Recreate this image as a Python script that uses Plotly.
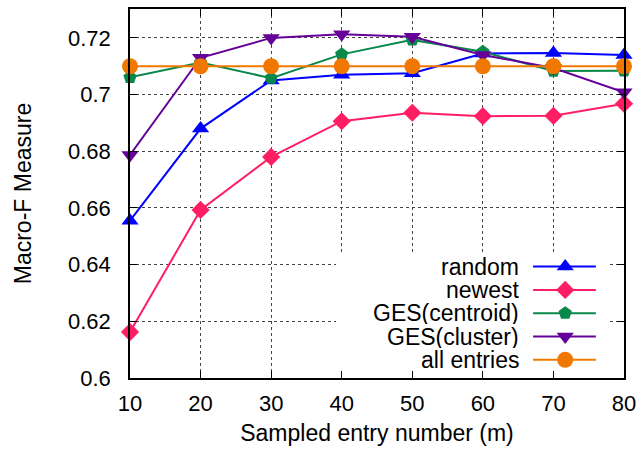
import plotly.graph_objects as go

x_vals = [10, 20, 30, 40, 50, 60, 70, 80]
random_vals = [0.6555, 0.688, 0.705, 0.707, 0.7075, 0.7145, 0.7147, 0.7140]
newest_vals = [0.6162, 0.6593, 0.678, 0.6906, 0.6936, 0.6924, 0.6925, 0.6968]
centroid_vals = [0.7061, 0.7113, 0.7058, 0.7142, 0.7193, 0.7151, 0.7083, 0.7084]
cluster_vals = [0.6787, 0.7130, 0.7200, 0.7213, 0.7204, 0.7140, 0.7094, 0.7008]
all_vals = [0.71, 0.71, 0.71, 0.71, 0.71, 0.71, 0.71, 0.71]

series_names = ["random", "newest", "GES(centroid)", "GES(cluster)", "all entries"]
series_vals = [random_vals, newest_vals, centroid_vals, cluster_vals, all_vals]
colors = ["#0000FF", "#FF1E64", "#08884A", "#650099", "#F07800"]
symbols = ["triangle-up", "diamond", "pentagon", "triangle-down", "circle"]
msizes = [15, 14, 14, 15, 16]

x_ticks = [10, 20, 30, 40, 50, 60, 70, 80]
y_ticks = [0.6, 0.62, 0.64, 0.66, 0.68, 0.7, 0.72]
y_tick_labels = ["0.6", "0.62", "0.64", "0.66", "0.68", "0.7", "0.72"]

FONT = "Liberation Sans, Arial, sans-serif"

fig = go.Figure()
for name, vals, c, s, ms in zip(series_names, series_vals, colors, symbols, msizes):
    fig.add_trace(go.Scatter(
        x=x_vals, y=vals, name=name, mode="lines+markers",
        line=dict(color=c, width=2),
        marker=dict(symbol=s, size=ms, color=c, line=dict(width=0)),
        cliponaxis=False, showlegend=False,
    ))

# gnuplot-style key: opaque box, text right-aligned, sample to the right
key_text_x = 0.792
key_line_x0, key_line_x1 = 0.816, 0.943
key_mark_x = 0.881
key_top = 0.302
key_step = 0.0632
box_x0, box_x1, box_y0, box_y1 = 0.417, 0.970, 0.003, 0.336

fig.add_trace(go.Scatter(
    x=[box_x0, box_x1, box_x1, box_x0, box_x0], y=[box_y0, box_y0, box_y1, box_y1, box_y0],
    xaxis="x2", yaxis="y2", mode="lines", fill="toself", fillcolor="white",
    line=dict(width=0, color="white"), showlegend=False, hoverinfo="skip",
))

for i, (name, c, s, ms) in enumerate(zip(series_names, colors, symbols, msizes)):
    yy = key_top - i * key_step
    fig.add_annotation(x=key_text_x, y=yy, xref="paper", yref="paper", text=name,
                       showarrow=False, xanchor="right", yanchor="middle", height=22,
                       font=dict(family=FONT, size=23, color="black"))
    fig.add_trace(go.Scatter(
        x=[key_line_x0, key_line_x1], y=[yy, yy],
        xaxis="x2", yaxis="y2", mode="lines",
        line=dict(color=c, width=2),
        showlegend=False, hoverinfo="skip", cliponaxis=False,
    ))
    fig.add_trace(go.Scatter(
        x=[key_mark_x], y=[yy],
        xaxis="x2", yaxis="y2", mode="markers",
        marker=dict(symbol=s, size=ms, color=c, opacity=1, line=dict(width=0)),
        showlegend=False, hoverinfo="skip", cliponaxis=False,
    ))

fig.update_layout(
    width=642, height=449,
    margin=dict(l=130, r=18, t=9, b=71, autoexpand=False),
    plot_bgcolor="white", paper_bgcolor="white",
    font=dict(family=FONT, size=22, color="black"),
    xaxis=dict(
        range=[10, 80], tickvals=x_ticks, ticks="inside", ticklen=7, tickcolor="black",
        showline=True, linecolor="black", linewidth=1.5, mirror="allticks",
        showgrid=True, gridcolor="#444", griddash="dot", gridwidth=1, zeroline=False,
        title=dict(text="Sampled entry number (m)", font=dict(size=23), standoff=10),
        tickfont=dict(size=22), ticklabelstandoff=5,
    ),
    yaxis=dict(
        range=[0.6, 0.7302], tickvals=y_ticks, ticktext=y_tick_labels, ticks="inside", ticklen=7,
        tickcolor="black",
        showline=True, linecolor="black", linewidth=1.5, mirror="allticks",
        showgrid=True, gridcolor="#444", griddash="dot", gridwidth=1, zeroline=False,
        title=dict(text="Macro-F Measure", font=dict(size=23), standoff=30),
        tickfont=dict(size=22), ticklabelstandoff=13,
    ),
    xaxis2=dict(range=[0, 1], overlaying="x", visible=False),
    yaxis2=dict(range=[0, 1], overlaying="y", visible=False),
)

fig.write_html(
    "out.html",
    config={"displayModeBar": False},
    post_script="document.body.style.margin='0';document.body.style.overflow='hidden';",
)
